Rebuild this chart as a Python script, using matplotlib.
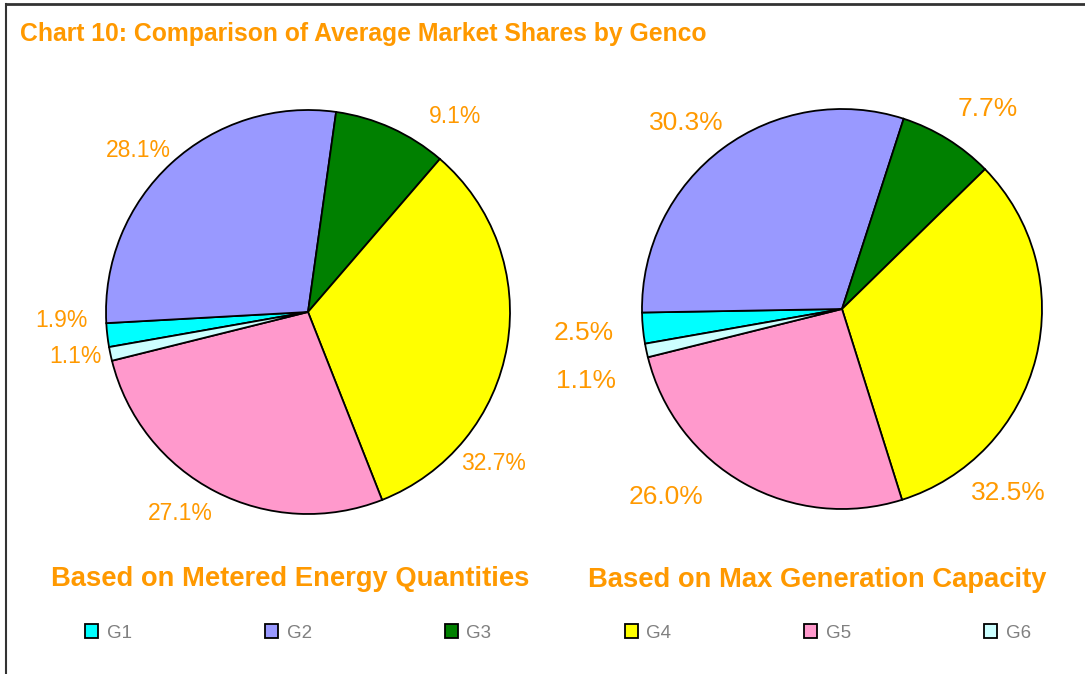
import matplotlib
matplotlib.use("Agg")
import matplotlib.pyplot as plt
from matplotlib.lines import Line2D

plt.rcParams['font.family'] = ['Liberation Sans', 'DejaVu Sans']

# data
gencos = ["G1", "G2", "G3", "G4", "G5", "G6"]
metered_shares = [1.9, 28.1, 9.1, 32.7, 27.1, 1.1]
capacity_shares = [2.5, 30.3, 7.7, 32.5, 26.0, 1.1]
colors = ["#00FFFF", "#9999FF", "#008000", "#FFFF00", "#FF99CC", "#CCFFFF"]
orange = "#FF9900"

# where the percentage labels sit, in pie-radius units (best-fit style)
metered_label_xy = [(-1.22, -0.04), (-0.84, 0.80), (0.73, 0.97),
                    (0.92, -0.75), (-0.63, -1.0), (-1.15, -0.22)]
capacity_label_xy = [(-1.29, -0.12), (-0.78, 0.93), (0.73, 1.0),
                     (0.83, -0.92), (-0.88, -0.94), (-1.28, -0.36)]

W, H = 1085, 674
fig = plt.figure(figsize=(W / 100, H / 100), dpi=100)


def pie_axes(cx, cy, r):
    s = 2.5 * r
    return fig.add_axes([(cx - s / 2) / W, (H - cy - s / 2) / H, s / W, s / H])


def draw_pie(ax, vals, fsize, label_xy):
    wedges, _, autotexts = ax.pie(
        vals, colors=colors, startangle=190, counterclock=False,
        autopct=lambda p: f"{p:.1f}%", pctdistance=1.2,
        wedgeprops=dict(edgecolor="black", linewidth=1.3),
        textprops=dict(color=orange, fontsize=fsize))
    for t, xy in zip(autotexts, label_xy):
        t.set_position(xy)
    ax.set_aspect("equal")
    return wedges


ax1 = pie_axes(308, 312, 202)
wedges = draw_pie(ax1, metered_shares, 16.5, metered_label_xy)

ax2 = pie_axes(842, 309, 200)
draw_pie(ax2, capacity_shares, 19, capacity_label_xy)

fig.text(20 / W, 1 - 34 / H, "Chart 10: Comparison of Average Market Shares by Genco",
         color=orange, fontsize=17.8, fontweight="bold", va="center", ha="left")
fig.text(290 / W, 1 - 579 / H, "Based on Metered Energy Quantities",
         color=orange, fontsize=19.7, fontweight="bold", va="center", ha="center")
fig.text(817 / W, 1 - 580 / H, "Based on Max Generation Capacity",
         color=orange, fontsize=19.7, fontweight="bold", va="center", ha="center")

leg = fig.legend(wedges, gencos, loc="center", bbox_to_anchor=(558 / W, 1 - 633 / H),
                 ncol=6, frameon=False, fontsize=13.5, handlelength=0.7,
                 handleheight=0.7, handletextpad=0.45, columnspacing=7.1)
for t in leg.get_texts():
    t.set_color("#808080")

# chart frame (top and left edges)
fig.add_artist(Line2D([6 / W, 6 / W], [0, 1 - 4 / H], color="#333333", lw=1.5))
fig.add_artist(Line2D([6 / W, 1], [1 - 4 / H, 1 - 4 / H], color="#333333", lw=2))

fig.savefig("out.png", dpi=100)
